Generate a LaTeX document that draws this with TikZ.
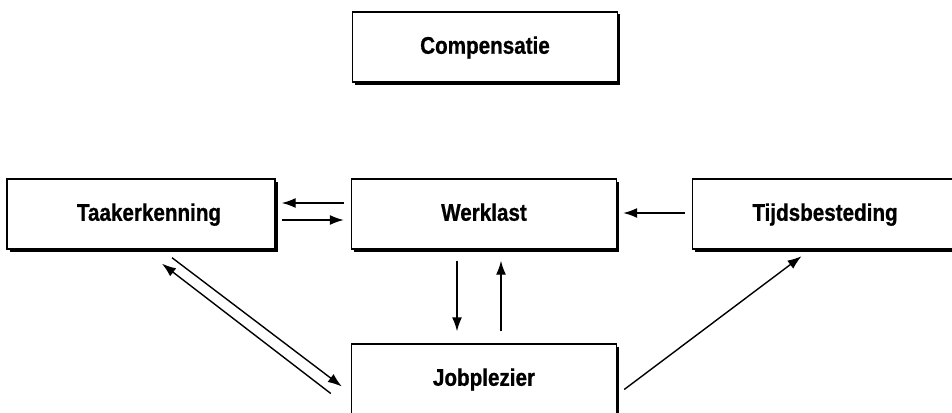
\documentclass[tikz,border=0pt]{standalone}
\usepackage{fontspec}
\setmainfont{Liberation Sans}[FakeStretch=0.86, BoldFeatures={FakeBold=0.8}]
\usetikzlibrary{arrows.meta,shadows}
\tikzset{
  box/.style={draw=black, line width=1.4pt, fill=white, minimum width=265pt, minimum height=70pt,
    inner sep=0pt, text height=17.5pt, text depth=4pt,
    font=\fontsize{24}{28}\selectfont\bfseries,
    drop shadow={shadow xshift=2.5pt, shadow yshift=-2.5pt, fill=black, opacity=1}},
  arr/.style={line width=1.4pt, -{Latex[length=14pt,width=10pt]}}
}
\begin{document}
\begin{tikzpicture}[x=1pt,y=-1pt]
\useasboundingbox (0,0) rectangle (952,412);
\node[box] (comp) at (485,47) {Compensatie};
\node[box, minimum width=268pt] (taak) at (141,214) {\hspace*{16pt}Taakerkenning};
\node[box] (werk) at (484,214) {Werklast};
\node[box] (tijd) at (825,214) {Tijdsbesteding};
\node[box] (job) at (484,379) {Jobplezier};
% Werklast <-> Taakerkenning
\draw[arr, shorten <=7pt, shorten >=6pt] ([yshift=11pt]werk.west) -- ([yshift=11pt]taak.east);
\draw[arr, shorten <=6pt, shorten >=7pt] ([yshift=-6pt]taak.east) -- ([yshift=-6pt]werk.west);
% Tijdsbesteding -> Werklast
\draw[arr, shorten <=7pt, shorten >=6pt] ([yshift=1pt]tijd.west) -- ([yshift=1pt]werk.east);
% Werklast <-> Jobplezier
\draw[arr, shorten <=11pt, shorten >=12pt] ([xshift=-27pt]werk.south) -- ([xshift=-27pt]job.north);
\draw[arr, shorten <=12pt, shorten >=11pt] ([xshift=17pt]job.north) -- ([xshift=17pt]werk.south);
% Jobplezier -> Tijdsbesteding
\draw[arr] ([xshift=7pt,yshift=-10.5pt]job.east) -- ([xshift=-23.5pt,yshift=-6.5pt]tijd.south);
% Taakerkenning <-> Jobplezier
\draw[arr] ([xshift=31pt,yshift=-8pt]taak.south) -- ([xshift=-9pt,yshift=-7.5pt]job.west);
\draw[arr] ([xshift=-20pt,yshift=-14.5pt]job.west) -- ([xshift=21pt,yshift=-14pt]taak.south);
\end{tikzpicture}
\end{document}
